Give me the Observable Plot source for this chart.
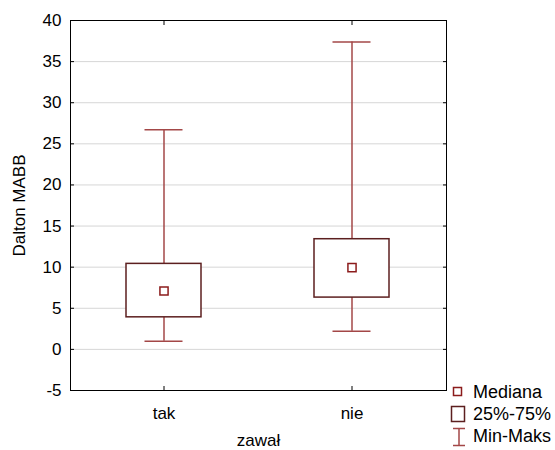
<!DOCTYPE html>
<html><head><meta charset="utf-8">
<script src="https://cdn.jsdelivr.net/npm/d3@7"></script>
<script src="https://cdn.jsdelivr.net/npm/@observablehq/plot@0.6"></script>
<style>
body{margin:0;background:#fff;font-family:"Liberation Sans",Arial,sans-serif;}
#wrap{position:relative;width:555px;height:450px;}
#legend{position:absolute;left:449px;top:381px;font-size:18px;color:#000;line-height:22px;}
#legend .row{display:flex;align-items:center;height:22px;}
#legend svg{width:24px;height:22px;flex:none;}
</style>
</head><body>
<div id="wrap"><div id="chart"></div>
<div id="legend">
 <div class="row"><svg viewBox="0 0 24 22"><rect x="4.5" y="6.5" width="8" height="8" fill="white" stroke="#8c1c1c" stroke-width="1.5"/></svg><span>Mediana</span></div>
 <div class="row"><svg viewBox="0 0 24 22"><rect x="2.5" y="3.5" width="13" height="15" fill="white" stroke="#5c1f1f" stroke-width="1.5"/></svg><span>25%-75%</span></div>
 <div class="row"><svg viewBox="0 0 24 22"><path d="M4 3.5H16M10 3.5V20.5M4 20.5H16" fill="none" stroke="#a34747" stroke-width="1.5"/></svg><span>Min-Maks</span></div>
</div>
</div>
<script>
const categories = ["tak", "nie"];
const mins = [1.0, 2.2];
const q1s = [3.9, 6.3];
const medians = [7.1, 9.95];
const q3s = [10.4, 13.4];
const maxs = [26.7, 37.4];
const yTicks = [-5, 0, 5, 10, 15, 20, 25, 30, 35, 40];
const xTitle = "zawał";
const yTitle = "Dalton MABB";

const data = categories.map((c, i) => ({cat: c, min: mins[i], q1: q1s[i], med: medians[i], q3: q3s[i], max: maxs[i]}));

const whisker = "#a34747", boxColor = "#5c1f1f", medColor = "#8c1c1c";

const chart = Plot.plot({
  width: 555, height: 450,
  marginLeft: 70, marginRight: 109, marginTop: 20, marginBottom: 60,
  style: {fontFamily: '"Liberation Sans", Arial, sans-serif', fontSize: "17px", color: "#000", background: "#fff"},
  x: {type: "band", domain: categories, paddingInner: 0.6, paddingOuter: 0.3},
  y: {domain: [-5, 40]},
  marks: [
    Plot.gridY(yTicks.filter(v => v > -5 && v < 40), {stroke: "#d6d6d6", strokeOpacity: 1, strokeWidth: 1}),
    Plot.axisY({ticks: yTicks, tickSize: 0, tickPadding: 9, tickFormat: d => String(d), fontSize: 17, label: null}),
    Plot.axisY({anchor: "left", ticks: yTicks, tickSize: -4, tickFormat: () => "", label: null, stroke: "#000"}),
    Plot.axisY({anchor: "right", ticks: yTicks, tickSize: -4, tickFormat: () => "", label: null, stroke: "#000"}),
    Plot.axisX({tickSize: 0, tickPadding: 16, fontSize: 17, label: null}),
    Plot.axisX({anchor: "bottom", tickSize: -4, tickFormat: () => "", label: null, stroke: "#000"}),
    Plot.axisX({anchor: "top", tickSize: -4, tickFormat: () => "", label: null, stroke: "#000"}),
    Plot.text([xTitle], {frameAnchor: "bottom", dy: 50, lineAnchor: "middle", fontSize: 17, fill: "#000"}),
    Plot.text([yTitle], {frameAnchor: "left", dx: -51, rotate: -90, lineAnchor: "middle", textAnchor: "middle", fontSize: 17, fill: "#000"}),
    Plot.ruleX(data, {x: "cat", y1: "min", y2: "q1", stroke: whisker, strokeWidth: 1.5}),
    Plot.ruleX(data, {x: "cat", y1: "q3", y2: "max", stroke: whisker, strokeWidth: 1.5}),
    Plot.tickY(data, {x: "cat", y: "min", insetLeft: 18.5, insetRight: 18.5, stroke: whisker, strokeWidth: 1.5}),
    Plot.tickY(data, {x: "cat", y: "max", insetLeft: 18.5, insetRight: 18.5, stroke: whisker, strokeWidth: 1.5}),
    Plot.barY(data, {x: "cat", y1: "q1", y2: "q3", fill: "white", stroke: boxColor, strokeWidth: 1.5}),
    Plot.dot(data, {x: "cat", y: "med", symbol: "square", r: 4.6, fill: "white", stroke: medColor, strokeWidth: 1.5}),
    Plot.frame({stroke: "#000", strokeWidth: 1})
  ]
});
document.getElementById("chart").appendChild(chart);
</script>
</body></html>
